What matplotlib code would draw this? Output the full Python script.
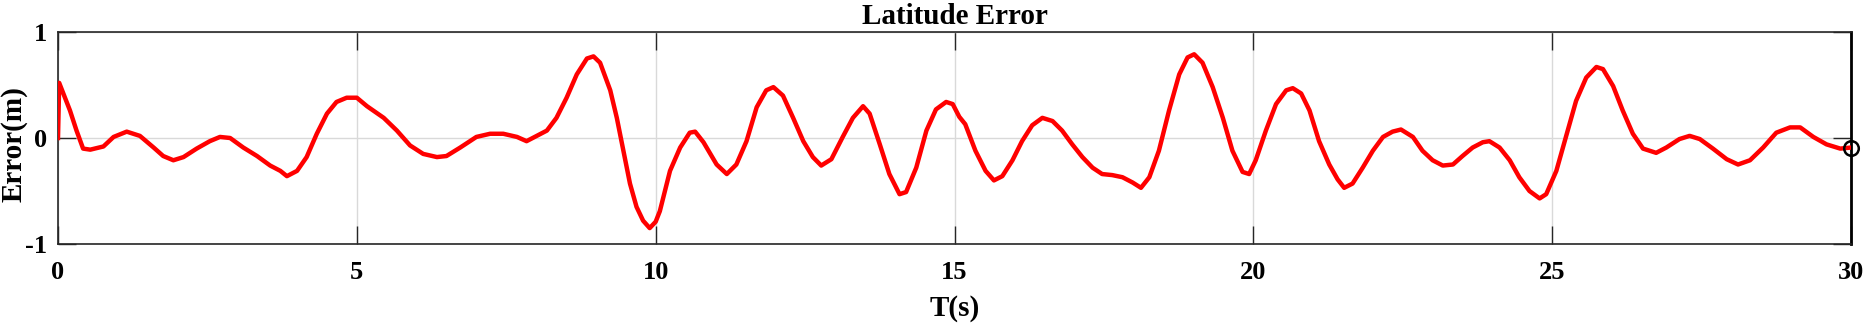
import matplotlib
matplotlib.use("Agg")
import matplotlib.pyplot as plt

# values
t_pts = [0.0, 0.02, 0.2, 0.31, 0.42, 0.54, 0.76, 0.93, 1.15, 1.37, 1.6, 1.76, 1.93,
         2.1, 2.32, 2.54, 2.71, 2.88, 3.1, 3.33, 3.55, 3.72, 3.83, 4.0, 4.16, 4.33,
         4.5, 4.66, 4.83, 5.0, 5.17, 5.45, 5.67, 5.89, 6.11, 6.34, 6.5, 6.73, 7.0,
         7.23, 7.45, 7.68, 7.84, 8.01, 8.18, 8.34, 8.51, 8.68, 8.85, 8.96, 9.07,
         9.24, 9.35, 9.46, 9.57, 9.68, 9.79, 9.9, 10.0, 10.07, 10.24, 10.41, 10.57,
         10.66, 10.8, 11.02, 11.19, 11.35, 11.52, 11.69, 11.85, 11.97, 12.13, 12.3,
         12.47, 12.63, 12.77, 12.94, 13.13, 13.3, 13.47, 13.58, 13.75, 13.91, 14.08,
         14.19, 14.36, 14.53, 14.69, 14.86, 14.97, 15.08, 15.18, 15.35, 15.52, 15.66,
         15.8, 15.97, 16.13, 16.3, 16.47, 16.64, 16.8, 16.97, 17.14, 17.31, 17.47,
         17.64, 17.81, 17.98, 18.12, 18.26, 18.42, 18.59, 18.76, 18.9, 19.01, 19.15,
         19.32, 19.49, 19.65, 19.82, 19.93, 20.04, 20.21, 20.38, 20.55, 20.66, 20.8,
         20.94, 21.1, 21.27, 21.41, 21.52, 21.66, 21.83, 22.0, 22.17, 22.33, 22.47,
         22.67, 22.83, 23.0, 23.17, 23.34, 23.5, 23.67, 23.84, 23.95, 24.12, 24.29,
         24.45, 24.62, 24.79, 24.9, 25.07, 25.23, 25.4, 25.57, 25.74, 25.85, 26.02,
         26.18, 26.35, 26.52, 26.74, 26.91, 27.13, 27.3, 27.47, 27.69, 27.92, 28.11,
         28.31, 28.53, 28.75, 28.98, 29.15, 29.37, 29.59, 29.82, 30.0]
err_pts = [0.0, 0.52, 0.26, 0.07, -0.10, -0.11, -0.08, 0.01, 0.06, 0.02, -0.09, -0.17,
           -0.21, -0.18, -0.10, -0.03, 0.01, 0.0, -0.09, -0.17, -0.26, -0.31, -0.36,
           -0.31, -0.18, 0.04, 0.23, 0.34, 0.38, 0.38, 0.30, 0.19, 0.07, -0.07, -0.15,
           -0.18, -0.17, -0.09, 0.01, 0.04, 0.04, 0.01, -0.03, 0.02, 0.07, 0.19, 0.38,
           0.60, 0.75, 0.77, 0.71, 0.45, 0.19, -0.12, -0.43, -0.65, -0.78, -0.85,
           -0.79, -0.69, -0.31, -0.09, 0.05, 0.06, -0.04, -0.25, -0.34, -0.25, -0.03,
           0.29, 0.45, 0.48, 0.40, 0.19, -0.03, -0.18, -0.26, -0.20, 0.01, 0.19, 0.30,
           0.23, -0.06, -0.34, -0.53, -0.51, -0.28, 0.07, 0.27, 0.34, 0.32, 0.2, 0.13,
           -0.12, -0.31, -0.40, -0.36, -0.21, -0.03, 0.12, 0.19, 0.16, 0.07, -0.06,
           -0.18, -0.28, -0.34, -0.35, -0.37, -0.42, -0.47, -0.37, -0.12, 0.26, 0.60,
           0.76, 0.79, 0.71, 0.48, 0.19, -0.12, -0.32, -0.34, -0.21, 0.07, 0.32, 0.45,
           0.47, 0.42, 0.26, -0.03, -0.25, -0.39, -0.47, -0.43, -0.28, -0.12, 0.01,
           0.06, 0.08, 0.01, -0.12, -0.21, -0.26, -0.25, -0.17, -0.09, -0.04, -0.03,
           -0.09, -0.21, -0.37, -0.50, -0.57, -0.53, -0.31, 0.01, 0.35, 0.57, 0.67,
           0.65, 0.49, 0.26, 0.04, -0.10, -0.14, -0.09, -0.01, 0.02, -0.01, -0.10,
           -0.20, -0.25, -0.21, -0.09, 0.05, 0.10, 0.10, 0.01, -0.06, -0.10, -0.09]

x_ticks = [0, 5, 10, 15, 20, 25, 30]
y_ticks = [-1, 0, 1]

plt.rcParams['font.family'] = ['Liberation Serif', 'DejaVu Serif']
plt.rcParams['font.weight'] = 'bold'
plt.rcParams['axes.unicode_minus'] = False

fig = plt.figure(figsize=(18.64, 3.25), dpi=100)
ax = fig.add_axes([58 / 1864, 81 / 325, 1793 / 1864, 212 / 325])

ax.plot(t_pts, err_pts, color='red', linewidth=3.2, solid_joinstyle='round', zorder=3)
# end-point marker
ax.plot([t_pts[-1]], [err_pts[-1]], marker='o', markersize=10.5, markerfacecolor='none',
        markeredgecolor='black', markeredgewidth=1.8, clip_on=False, zorder=4)

ax.set_xlim(0, 30)
ax.set_ylim(-1, 1)
ax.set_xticks(x_ticks)
ax.set_yticks(y_ticks)
ax.grid(True, color='#d9d9d9', linewidth=1.0)
ax.set_axisbelow(True)

ax.tick_params(direction='in', length=13, width=1.0, color='#262626',
               top=True, right=True, labelsize=19)
ax.tick_params(axis='x', pad=12)
ax.tick_params(axis='y', pad=8)
for s in ax.spines.values():
    s.set_color('#262626')
    s.set_linewidth(1.2)
ax.spines['right'].set_color('black')
ax.spines['right'].set_linewidth(2.0)

ax.set_title('Latitude Error', fontsize=21, fontweight='bold', pad=6)
ax.set_xlabel('T(s)', fontsize=21, fontweight='bold', va='center')
ax.xaxis.set_label_coords(0.5, -0.302)
ax.set_ylabel('Error(m)', fontsize=21, fontweight='bold', va='center')
ax.yaxis.set_label_coords(-0.0245, 0.472)

fig.savefig('out.png', dpi=100)
